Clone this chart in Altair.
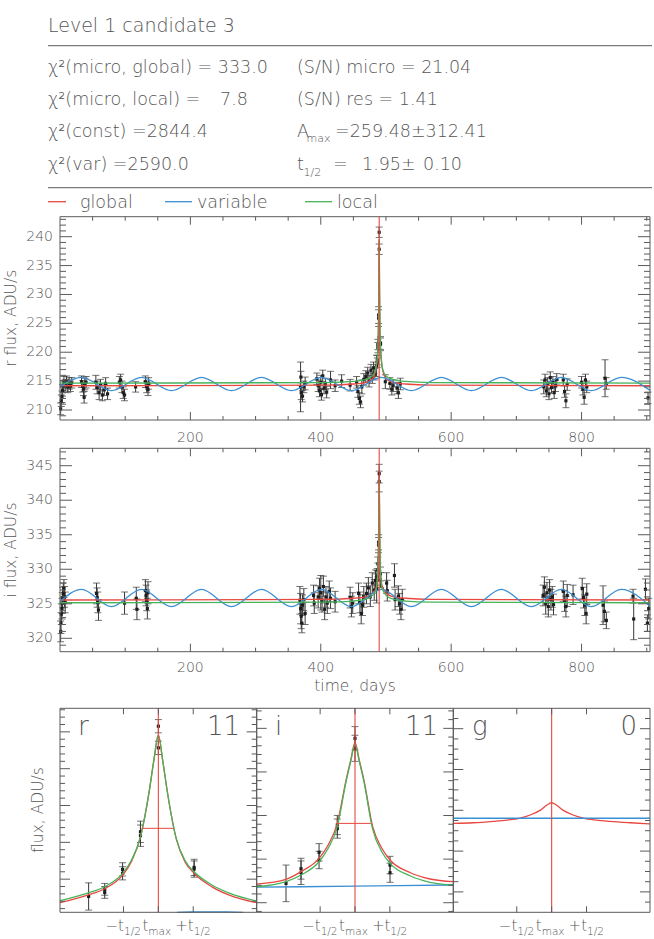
import altair as alt
import pandas as pd

# ---------------------------------------------------------------------------
# Photometry: epoch (days), flux and 1-sigma error (ADU/s)
# ---------------------------------------------------------------------------
r_time = [
    1, 2, 3, 4, 5, 6, 8, 10, 12, 14, 16, 18,
    33, 35, 36, 37, 38, 40,
    55, 57, 60, 62, 65, 68, 70, 73,
    91, 93, 95, 97, 99, 116, 131, 133, 135, 136,
    369, 369.5, 370, 372, 374, 376,
    394, 396, 398, 400, 401, 403, 405, 407, 409,
    415, 422, 432, 445,
    455, 457, 459, 461, 463, 466,
    469, 472, 474, 477, 479, 481, 483,
    485.7, 486.6, 486.6, 487.6, 487.6, 488.6, 488.6, 489.6, 489.6, 491.6, 491.6,
    499, 506, 509, 511, 517, 519, 522,
    742, 744, 746, 748, 750, 752, 754, 756, 758, 760, 762,
    772, 774, 776, 778,
    800, 802, 804, 806, 808,
    836, 838, 902,
]
r_flux = [
    210.2, 211.6, 212.3, 213.4, 214.1, 214.8, 214.3, 214.9, 214.0, 214.6, 214.2, 214.7,
    214.9, 214.1, 213.6, 212.2, 214.5, 214.8,
    214.8, 213.9, 213.0, 214.3, 212.6, 213.5, 214.6, 212.8,
    214.8, 215.2, 214.0, 213.0, 212.6, 214.0, 214.9, 214.0, 213.5, 214.6,
    214.0, 215.7, 213.0, 212.4, 214.0, 214.6,
    215.4, 214.2, 213.3, 214.8, 212.7, 215.9, 213.8, 214.5, 213.1,
    215.2, 214.2, 215.0, 214.3,
    214.8, 213.2, 212.0, 211.4, 214.0, 215.3,
    215.8, 216.4, 215.0, 216.9, 215.6, 217.3, 216.2,
    217.65, 218.62, 218.2, 221.33, 220.8, 226.43, 225.9, 240.77, 237.83, 221.6, 221.37,
    214.9, 214.6, 213.6, 214.2, 213.8, 213.0, 214.5,
    214.0, 215.2, 213.3, 214.6, 212.8, 215.6, 213.9, 214.8, 213.0, 214.2, 215.3,
    215.2, 213.2, 211.6, 214.4,
    214.8, 213.6, 212.2, 215.2, 214.0,
    215.5, 214.6, 212.1,
]
r_err = [
    1.0, 1.0, 1.0, 1.0, 1.0, 1.0, 1.0, 1.0, 1.0, 1.0, 1.0, 0.9,
    1.0, 1.0, 1.1, 1.0, 1.0, 1.0,
    1.2, 1.1, 1.2, 1.0, 1.0, 1.0, 1.0, 1.0,
    1.0, 1.0, 1.0, 1.0, 1.0, 0.9, 1.0, 1.0, 1.0, 1.0,
    4.3, 1.0, 1.2, 1.0, 1.0, 1.1,
    1.0, 1.0, 1.0, 1.2, 1.0, 1.0, 1.0, 1.0, 1.0,
    1.5, 1.0, 1.1, 1.0,
    1.0, 1.0, 1.0, 1.0, 1.2, 1.0,
    1.0, 1.0, 1.0, 1.0, 1.0, 1.0, 1.0,
    1.85, 0.8, 0.8, 0.9, 0.9, 1.45, 1.45, 0.9, 0.9, 1.1, 1.1,
    1.2, 1.0, 1.0, 1.0, 1.0, 1.0, 1.0,
    1.2, 1.0, 1.0, 1.0, 1.0, 1.0, 1.0, 1.0, 1.0, 1.0, 1.0,
    1.0, 1.0, 1.2, 1.0,
    1.0, 1.0, 1.2, 1.0, 1.0,
    3.2, 1.0, 1.0,
]

i_time = [
    1, 1.5, 2, 3, 3.5, 4, 5, 6, 7, 8,
    56, 57, 58, 59, 99, 117, 118,
    131, 132, 133, 134, 135,
    368, 369, 370, 371, 372, 374, 376, 389, 390,
    396, 398, 400, 402, 404, 406, 408, 410, 413, 415, 422,
    445, 447, 449, 458, 460, 462, 464, 466,
    470, 473, 476, 479, 482, 484,
    485.74, 486.58, 486.58, 487.59, 487.59, 488.61, 488.61, 489.6, 489.6, 491.56, 491.56,
    501, 502, 513, 514, 519, 521, 523, 525,
    741, 743, 745, 747, 749, 751, 753, 755, 757,
    772, 774, 776, 778, 787,
    801, 803, 805, 807, 808,
    833, 835, 838, 879, 880, 898, 901, 903,
]
i_flux = [
    321.0, 322.2, 323.5, 324.3, 325.1, 325.9, 326.5, 327.2, 326.0, 325.2,
    326.5, 325.9, 325.2, 324.1, 325.1, 325.8, 324.2,
    326.9, 326.2, 325.5, 324.3, 326.6,
    325.5, 324.3, 323.2, 322.2, 324.8, 325.6, 323.6, 326.2, 325.1,
    326.0, 327.2, 326.6, 325.3, 327.5, 324.2, 326.0, 325.1, 326.8, 325.8, 325.3,
    325.9, 324.6, 325.1, 326.5, 325.2, 323.6, 324.8, 326.0,
    326.5, 327.3, 326.1, 328.0, 327.0, 328.4,
    327.22, 328.44, 328.9, 330.78, 329.9, 333.91, 333.5, 343.85, 342.71, 329.32, 328.44,
    328.0, 326.9, 329.1, 325.6, 326.1, 325.0, 324.2, 325.6,
    326.2, 327.4, 325.0, 326.6, 324.6, 327.0, 325.6, 326.0, 324.9,
    326.8, 325.4, 324.6, 326.2, 326.3,
    327.2, 325.9, 324.8, 323.6, 326.4,
    324.8, 323.9, 322.6, 326.1, 322.8, 327.1, 322.2, 324.3,
]
i_err = [
    1.5, 1.5, 1.5, 1.5, 1.5, 1.5, 1.5, 1.3, 1.5, 1.5,
    1.5, 1.4, 1.5, 1.5, 1.6, 1.6, 1.5,
    1.6, 1.5, 1.5, 1.5, 1.6,
    2.0, 2.2, 1.8, 1.4, 1.5, 1.6, 1.6, 1.5, 1.5,
    1.6, 1.5, 2.5, 1.5, 1.5, 1.5, 1.5, 1.5, 1.5, 1.5, 1.5,
    1.5, 1.5, 1.5, 1.5, 1.5, 1.5, 1.5, 1.5,
    1.5, 1.5, 1.5, 1.5, 1.5, 1.5,
    2.1, 1.35, 1.2, 1.0, 1.0, 1.1, 1.1, 1.35, 1.5, 1.0, 1.1,
    1.5, 1.5, 1.7, 1.5, 1.5, 1.5, 1.5, 1.5,
    1.5, 1.5, 1.5, 1.5, 1.5, 1.5, 1.5, 1.5, 1.5,
    1.5, 1.5, 1.5, 1.6, 1.4,
    1.5, 1.5, 1.5, 1.5, 1.5,
    2.8, 1.5, 1.2, 1.0, 3.0, 1.5, 1.2, 1.5,
]

T0 = 489.6       # time of maximum, days
T_HALF = 1.95    # half-duration, days
WINDOW = 5.5     # half-width of the zoomed panels, days

# Fit statistics
chi2_micro_global = 333.0
chi2_micro_local = 7.8
chi2_const = 2844.4
chi2_var = 2590.0
sn_micro = 21.04
sn_res = 1.41
a_max, a_max_err = 259.48, 312.41
t_half_err = 0.10

# ---------------------------------------------------------------------------
# Model curves near maximum: offset from T0 (days) and flux (ADU/s)
# ---------------------------------------------------------------------------
r_peak_dt = [-5.5, -4.0, -3.0, -2.0, -1.5, -1.0, -0.5, -0.25, 0.0, 0.25, 0.5, 1.0, 1.5, 2.0, 3.0, 4.0, 5.5]
r_global_peak = [216.8, 217.8, 218.7, 220.55, 222.4, 225.75, 232.09, 236.16, 239.55, 236.0, 231.9,
                 225.5, 222.3, 220.8, 218.95, 217.8, 216.8]
r_local_peak = [217.07, 218.07, 218.97, 220.79, 222.6, 225.75, 232.09, 236.16, 239.55, 236.0, 231.9,
                225.5, 222.5, 221.0, 219.2, 218.07, 217.03]
r_variable_dt = [1.04, 2.0, 2.9, 3.8, 4.75]
r_variable_peak = [215.5, 215.55, 215.57, 215.55, 215.5]
r_halfmax_dt = [-0.93, 0.84]
r_halfmax_flux = 226.9

i_peak_dt = [-5.5, -3.86, -3.02, -2.01, -1.5, -0.99, -0.5, -0.24, 0.0, 0.24, 0.5, 0.99, 1.5, 1.96, 3.1, 4.2, 5.5]
i_global_peak = [327.14, 327.68, 328.56, 330.09, 331.62, 334.1, 339.07, 341.36, 343.35, 341.36, 339.07,
                 333.72, 331.24, 329.9, 328.44, 327.72, 327.41]
i_local_peak = [326.83, 327.41, 328.18, 329.7, 331.24, 333.72, 338.88, 341.2, 343.2, 341.2, 338.88,
                333.42, 330.85, 329.52, 328.06, 327.34, 327.03]
i_variable_dt = [-5.5, 0.0, 5.5]
i_variable_peak = [326.78, 326.9, 327.03]
i_halfmax_dt = [-0.99, 0.88]
i_halfmax_flux = 334.1

g_peak_dt = [-5.5, -4.38, -3.26, -2.51, -1.76, -1.2, -0.63, -0.26, 0.0, 0.26, 0.63, 1.2, 1.76, 2.51, 3.26, 4.38, 5.5]
g_global_peak = [99.36, 99.39, 99.46, 99.52, 99.62, 99.77, 100.01, 100.26, 100.37, 100.26, 100.01,
                 99.77, 99.62, 99.52, 99.46, 99.39, 99.33]
g_variable_dt = [-5.5, 5.5]
g_variable_peak = [99.61, 99.61]

# Model curves away from maximum (days)
wing_time = [0, 410, 450, 470, 480, 499.6, 510, 530, 570, 905]
r_global_wing = [214.2, 214.3, 214.5, 214.8, 215.5, 215.5, 214.8, 214.5, 214.3, 214.2]
r_local_wing = [214.65, 214.75, 214.95, 215.3, 215.95, 215.95, 215.3, 214.95, 214.75, 214.65]
i_global_wing = [325.55, 325.65, 325.8, 326.05, 326.6, 326.6, 326.05, 325.8, 325.65, 325.55]
i_local_wing = [325.15, 325.25, 325.4, 325.7, 326.3, 326.3, 325.7, 325.4, 325.25, 325.15]

# Sinusoidal "variable" fit, turning points (days)
var_time = [0, 33, 79, 125, 171, 217, 263, 309, 355, 401, 447, 493, 539, 585, 631, 677, 723, 769, 815, 861, 905]
r_variable = [214.0, 215.65, 213.35, 215.65, 213.35, 215.65, 213.35, 215.65, 213.35, 215.65, 213.35,
              215.65, 213.35, 215.65, 213.35, 215.65, 213.35, 215.65, 213.35, 215.65, 213.4]
i_variable = [325.3, 327.1, 324.6, 327.1, 324.6, 327.1, 324.6, 327.1, 324.6, 327.1, 324.6,
              327.1, 324.6, 327.1, 324.6, 327.1, 324.6, 327.1, 324.6, 327.1, 324.65]

# ---------------------------------------------------------------------------
# Styling and page layout (pixels)
# ---------------------------------------------------------------------------
FONT = "DejaVu Sans"
WEIGHT = 200
INK = "#555555"
FRAME = "#5a5a5a"
DOT = "#1e1e1e"
BAR = "#383838"
RED, BLUE, GREEN = "#e8473f", "#3b8fd4", "#46b35b"

LAYOUT = {
    "r": {"x": (60, 650), "y": (420, 216.7), "xd": (0, 905), "yd": (208.27, 243.46)},
    "i": {"x": (60, 650), "y": (651.7, 448.3), "xd": (0, 905), "yd": (318.06, 347.52)},
    "zr": {"x": (60, 256.7), "y": (912.3, 708.3), "xd": (-WINDOW, WINDOW), "yd": (215.5, 243.2)},
    "zi": {"x": (256.7, 453.3), "y": (912.3, 708.3), "xd": (-WINDOW, WINDOW), "yd": (323.9, 347.3)},
    "zg": {"x": (453.3, 650), "y": (912.3, 708.3), "xd": (-WINDOW, WINDOW), "yd": (95.0, 105.0)},
}

FULL_XMAJ = [200, 400, 600, 800]
FULL_XMIN = [v for v in range(50, 901, 50) if v % 200]
ZOOM_XMAJ = [-T_HALF, 0.0, T_HALF]
TICKS = {
    "r": dict(xmaj=FULL_XMAJ, xmin=FULL_XMIN, ymaj=list(range(210, 241, 5)),
              ymin=[v for v in range(209, 244) if v % 5], xlen=8, ylen=12),
    "i": dict(xmaj=FULL_XMAJ, xmin=FULL_XMIN, ymaj=list(range(320, 346, 5)),
              ymin=[v for v in range(319, 348) if v % 5], xlen=8, ylen=12),
    "zr": dict(xmaj=ZOOM_XMAJ, xmin=[], ymaj=list(range(220, 241, 5)),
               ymin=[v for v in range(216, 244) if v % 5], xlen=6, ylen=10),
    "zi": dict(xmaj=ZOOM_XMAJ, xmin=[], ymaj=list(range(325, 346, 5)),
               ymin=[v for v in range(324, 348) if v % 5], xlen=6, ylen=10),
    "zg": dict(xmaj=ZOOM_XMAJ, xmin=[], ymaj=[96, 98, 100, 102, 104],
               ymin=[v * 0.5 for v in range(191, 210) if v % 4], xlen=6, ylen=10),
}


def sx(p):
    L = LAYOUT[p]
    return alt.Scale(domain=list(L["xd"]), range=list(L["x"]), nice=False, zero=False)


def sy(p):
    L = LAYOUT[p]
    return alt.Scale(domain=list(L["yd"]), range=list(L["y"]), nice=False, zero=False)


def X(field, p):
    return alt.X(f"{field}:Q", scale=sx(p), axis=None)


def Y(field, p):
    return alt.Y(f"{field}:Q", scale=sy(p), axis=None)


def PX(field):
    return alt.X(f"{field}:Q", scale=None, axis=None)


def PY(field):
    return alt.Y(f"{field}:Q", scale=None, axis=None)


def observations(time, flux, err):
    d = pd.DataFrame({"t": time, "flux": flux, "err": err})
    d["lo"] = d["flux"] - d["err"]
    d["hi"] = d["flux"] + d["err"]
    return d


def obs_layers(p, d):
    base = alt.Chart(d)
    bars = base.mark_rule(color=BAR, strokeWidth=1).encode(x=X("t", p), y=Y("lo", p), y2="hi:Q")
    caps = base.transform_fold(["lo", "hi"], as_=["end", "yv"]).mark_tick(
        orient="horizontal", size=7, thickness=1, color=BAR
    ).encode(x=X("t", p), y=Y("yv", p))
    dots = base.mark_square(size=10, color=DOT, opacity=1).encode(x=X("t", p), y=Y("flux", p))
    return [bars, caps, dots]


def curve(p, xs, ys, color, width=1.3):
    d = pd.DataFrame({"t": xs, "flux": ys})
    return alt.Chart(d).mark_line(color=color, strokeWidth=width, interpolate="monotone").encode(
        x=X("t", p), y=Y("flux", p)
    )


def merged(wing, dt, peak):
    pts = sorted(list(zip(wing_time, wing)) + [(T0 + a, b) for a, b in zip(dt, peak)])
    return [a for a, _ in pts], [b for _, b in pts]


def tmax_line(p, v):
    L = LAYOUT[p]
    return alt.Chart(pd.DataFrame({"t": [v]})).mark_rule(color=RED, strokeWidth=1.1).encode(
        x=X("t", p), y=alt.value(L["y"][1]), y2=alt.value(L["y"][0])
    )


def tick_layers(p):
    L, T = LAYOUT[p], TICKS[p]
    (xl, xr), (yb, yt) = L["x"], L["y"]
    xrows, yrows = [], []
    for vals, ln in ((T["xmaj"], T["xlen"]), (T["xmin"], T["xlen"] / 2)):
        for v in vals:
            xrows += [{"v": v, "a": yb, "b": yb - ln}, {"v": v, "a": yt, "b": yt + ln}]
    for vals, ln in ((T["ymaj"], T["ylen"]), (T["ymin"], T["ylen"] / 2)):
        for v in vals:
            yrows += [{"v": v, "a": xl, "b": xl + ln}, {"v": v, "a": xr, "b": xr - ln}]
    return [
        alt.Chart(pd.DataFrame(xrows)).mark_rule(color=FRAME, strokeWidth=1).encode(
            x=X("v", p), y=PY("a"), y2="b:Q"),
        alt.Chart(pd.DataFrame(yrows)).mark_rule(color=FRAME, strokeWidth=1).encode(
            y=Y("v", p), x=PX("a"), x2="b:Q"),
    ]


def text_layer(rows, size, align="left", baseline="alphabetic", angle=0, color=INK):
    return alt.Chart(pd.DataFrame(rows)).mark_text(
        font=FONT, fontSize=size, fontWeight=WEIGHT, align=align, baseline=baseline, angle=angle, color=color
    ).encode(x=PX("x"), y=PY("y"), text="text:N")


layers = []

# --------------------------- full light curves ------------------------------
r_obs = observations(r_time, r_flux, r_err)
i_obs = observations(i_time, i_flux, i_err)

for p, obs, gw, lw, dt, gp, lp, var in (
    ("r", r_obs, r_global_wing, r_local_wing, r_peak_dt, r_global_peak, r_local_peak, r_variable),
    ("i", i_obs, i_global_wing, i_local_wing, i_peak_dt, i_global_peak, i_local_peak, i_variable),
):
    layers += obs_layers(p, obs)
    layers.append(curve(p, *merged(gw, dt, gp), RED))
    layers.append(curve(p, var_time, var, BLUE))
    layers.append(curve(p, *merged(lw, dt, lp), GREEN))
    layers.append(tmax_line(p, T0))

# --------------------------- zoom on the maximum ----------------------------
counts = {}
for p, obs in (("zr", r_obs), ("zi", i_obs)):
    z = obs[(obs["t"] - T0).abs() <= WINDOW].copy()
    z["t"] = z["t"] - T0
    counts[p] = len(z)
    layers += obs_layers(p, z)
counts["zg"] = 0

layers += [
    curve("zr", r_peak_dt, r_global_peak, RED),
    curve("zr", r_variable_dt, r_variable_peak, BLUE),
    curve("zr", r_peak_dt, r_local_peak, GREEN),
    curve("zi", i_peak_dt, i_global_peak, RED),
    curve("zi", i_variable_dt, i_variable_peak, BLUE),
    curve("zi", i_peak_dt, i_local_peak, GREEN),
    curve("zg", g_peak_dt, g_global_peak, RED),
    curve("zg", g_variable_dt, g_variable_peak, BLUE),
]
for p, hdt, hf in (("zr", r_halfmax_dt, r_halfmax_flux), ("zi", i_halfmax_dt, i_halfmax_flux)):
    d = pd.DataFrame({"a": [hdt[0]], "b": [hdt[1]], "f": [hf]})
    layers.append(alt.Chart(d).mark_rule(color=RED, strokeWidth=1).encode(
        x=X("a", p), x2="b:Q", y=Y("f", p)))
for p in ("zr", "zi", "zg"):
    layers.append(tmax_line(p, 0.0))

# --------------------------- frames, ticks, labels --------------------------
frames = pd.DataFrame([{"x0": L["x"][0], "x1": L["x"][1], "y0": L["y"][1], "y1": L["y"][0]}
                       for L in LAYOUT.values()])
layers.append(alt.Chart(frames).mark_rect(fill="white", fillOpacity=0, stroke=FRAME, strokeWidth=1).encode(
    x=PX("x0"), x2="x1:Q", y=PY("y0"), y2="y1:Q"))
for p in LAYOUT:
    layers += tick_layers(p)

for p, ypix in (("r", 437.5), ("i", 668)):
    d = pd.DataFrame({"v": FULL_XMAJ, "s": [str(v) for v in FULL_XMAJ]})
    layers.append(alt.Chart(d).mark_text(font=FONT, fontSize=14, fontWeight=WEIGHT, color=INK,
                                         baseline="middle", align="center")
                  .encode(x=X("v", p), y=alt.value(ypix), text="s:N"))
    yv = TICKS[p]["ymaj"]
    d = pd.DataFrame({"v": yv, "s": [str(v) for v in yv]})
    layers.append(alt.Chart(d).mark_text(font=FONT, fontSize=14, fontWeight=WEIGHT, color=INK,
                                         baseline="middle", align="right")
                  .encode(x=alt.value(53), y=Y("v", p), text="s:N"))

side = pd.DataFrame({"v": [-T_HALF, T_HALF], "m": ["\u2212t", "+t"], "s": ["1/2", "1/2"]})
mid = pd.DataFrame({"v": [0.0], "m": ["t"], "s": ["max"]})
for p in ("zr", "zi", "zg"):
    for d, dx in ((side, 0.5), (mid, -10)):
        layers.append(alt.Chart(d).mark_text(font=FONT, fontSize=15, fontWeight=WEIGHT, color=INK,
                                             align="right", baseline="alphabetic", dx=dx)
                      .encode(x=X("v", p), y=alt.value(931), text="m:N"))
        layers.append(alt.Chart(d).mark_text(font=FONT, fontSize=10.5, fontWeight=WEIGHT, color=INK,
                                             align="left", baseline="alphabetic", dx=dx)
                      .encode(x=X("v", p), y=alt.value(935), text="s:N"))

# axis titles
layers.append(text_layer([
    {"x": 11, "y": 318.3, "text": "r flux, ADU/s"},
    {"x": 11, "y": 550, "text": "i flux, ADU/s"},
    {"x": 38, "y": 810, "text": "flux, ADU/s"},
], 15.5, align="center", baseline="middle", angle=270))
layers.append(text_layer([{"x": 355, "y": 691, "text": "time, days"}], 15.5, align="center"))

# band names and number of points inside each zoom window
layers.append(text_layer([
    {"x": 78, "y": 735, "text": "r"},
    {"x": 275, "y": 735, "text": "i"},
    {"x": 472, "y": 735, "text": "g"},
], 26))
layers.append(text_layer([
    {"x": 240, "y": 735, "text": str(counts["zr"])},
    {"x": 438, "y": 735, "text": str(counts["zi"])},
    {"x": 637, "y": 735, "text": str(counts["zg"])},
], 26, align="right"))

# --------------------------- header block ----------------------------------
layers.append(text_layer([{"x": 48, "y": 32.3, "text": "Level 1 candidate 3"}], 19))
layers.append(text_layer([
    {"x": 48, "y": 73.3, "text": f"\u03c7\u00b2(micro, global) = {chi2_micro_global:.1f}"},
    {"x": 48, "y": 105.2, "text": "\u03c7\u00b2(micro, local) ="},
    {"x": 220, "y": 105.2, "text": f"{chi2_micro_local:.1f}"},
    {"x": 48, "y": 137, "text": f"\u03c7\u00b2(const) ={chi2_const:.1f}"},
    {"x": 48, "y": 170, "text": f"\u03c7\u00b2(var) ={chi2_var:.1f}"},
    {"x": 297, "y": 73.3, "text": f"(S/N) micro = {sn_micro:.2f}"},
    {"x": 297, "y": 105.2, "text": f"(S/N) res = {sn_res:.2f}"},
    {"x": 297, "y": 137, "text": "A"},
    {"x": 335, "y": 137, "text": f"={a_max:.2f}\u00b1{a_max_err:.2f}"},
    {"x": 297, "y": 170, "text": "t"},
    {"x": 333, "y": 170, "text": "="},
    {"x": 362, "y": 170, "text": f"{T_HALF:.2f}\u00b1"},
    {"x": 423, "y": 170, "text": f"{t_half_err:.2f}"},
    {"x": 80, "y": 208, "text": "global"},
    {"x": 197, "y": 208, "text": "variable"},
    {"x": 337, "y": 208, "text": "local"},
], 17.5))
layers.append(text_layer([
    {"x": 306.5, "y": 141.7, "text": "max"},
    {"x": 303.5, "y": 176, "text": "1/2"},
], 11))

seps = pd.DataFrame({"x0": [48, 48], "x1": [652, 652], "y": [45.7, 187.7]})
layers.append(alt.Chart(seps).mark_rule(color=FRAME, strokeWidth=1).encode(x=PX("x0"), x2="x1:Q", y=PY("y")))
legend = pd.DataFrame({"x0": [48, 165, 305], "x1": [66, 192, 332], "y": [201.7, 201.7, 201.7],
                       "c": [RED, BLUE, GREEN]})
layers.append(alt.Chart(legend).mark_rule(strokeWidth=1.3).encode(
    x=PX("x0"), x2="x1:Q", y=PY("y"), color=alt.Color("c:N", scale=None)))

chart = alt.layer(*layers).properties(
    width=654, height=939, padding=0, autosize=alt.AutoSizeParams(type="none")
).resolve_scale(x="independent", y="independent").configure_view(stroke=None)

chart.save("out.html", embed_options={"renderer": "svg", "actions": False})
